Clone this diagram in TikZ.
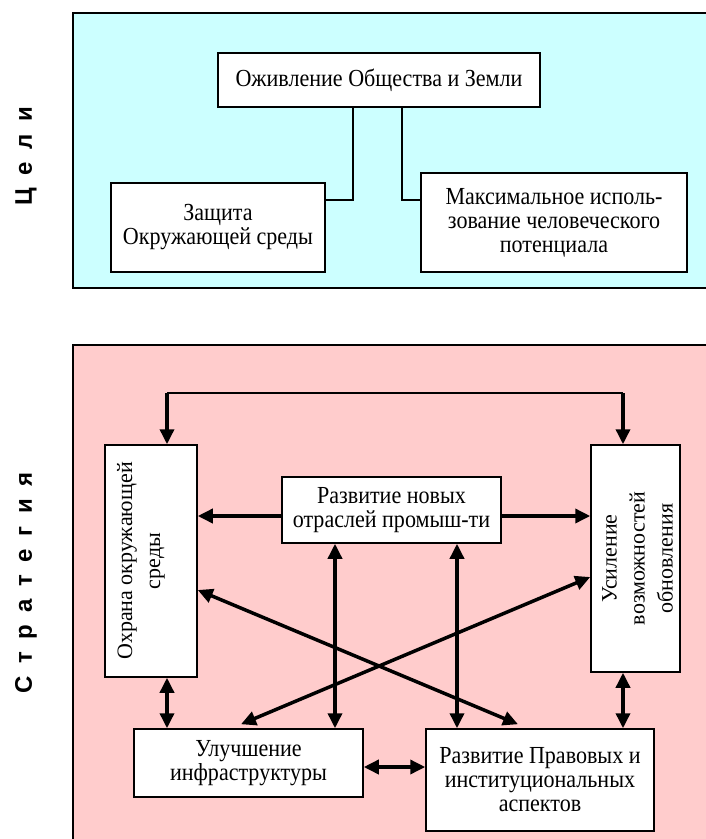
\documentclass[tikz,border=0pt]{standalone}
\usepackage{fontspec}
\setmainfont{Liberation Serif}
\setsansfont{Liberation Sans}
\newfontfamily\narrowserif[FakeStretch=0.9]{Liberation Serif}
\usepackage{tikz}
\usetikzlibrary{arrows.meta}
\usepackage{xcolor}
\definecolor{goalbg}{HTML}{CCFFFF}
\definecolor{stratbg}{HTML}{FFCCCC}
\newcommand\sidefont{\sffamily\bfseries\fontsize{24}{24}\selectfont\spaceskip 12.5pt\relax}

\tikzset{
	box/.style={draw, line width=1.5pt, fill=white, align=center, inner sep=2pt, font=\narrowserif\fontsize{24.5}{24}\selectfont},
	vtext/.style={rotate=90, align=center, font=\fontsize{22}{28}\selectfont},
	side/.style={rotate=90, font=\sidefont},
	panel/.style={line width=2pt},
	link/.style={line width=2pt},
	arr/.style={line width=3.5pt, -{Triangle[length=15pt,width=14pt]}},
	darr/.style={line width=3.5pt, {Triangle[length=15pt,width=14pt]}-{Triangle[length=15pt,width=14pt]}}
}

\begin{document}
\begin{tikzpicture}[x=1pt, y=-1pt]
		\path[use as bounding box, clip] (0,0) rectangle (706,839);
		% goals
		\draw[panel, fill=goalbg] (73,13) rectangle (720,288);
		\node[side] (goals) at (26,156) {Ц е л и};
		\node[box, minimum width=322pt, minimum height=54pt] (revival) at (379,80) {Оживление Общества и Земли};
		\node[box, minimum width=214pt, minimum height=89pt] (protect) at (218,227.5) {Защита\\Окружающей среды};
		\node[box, minimum width=266pt, minimum height=99pt] (human) at (554,222.5) {Максимальное исполь-\\зование человеческого\\потенциала};
		\draw[link] ([xshift=-26pt]revival.south) |- ([yshift=-18pt]protect.north east);
		\draw[link] ([xshift=23pt]revival.south) |- ([yshift=-28pt]human.north west);
		% strategy
		\draw[panel, fill=stratbg] (73,345) rectangle (720,850);
		\node[side] (strategy) at (26,583) {С т р а т е г и я};
		\node[box, minimum width=92pt, minimum height=232pt] (env) at (151,561) {};
		\node[vtext] (envtext) at ([xshift=-10pt]env.center) {Охрана окружающей\\среды};
		\node[box, minimum width=89pt, minimum height=227pt] (renew) at (635.5,558.5) {};
		\node[vtext] (renewtext) at ([xshift=2pt]renew.center) {Усиление\\возможностей\\обновления};
		\node[box, minimum width=219pt, minimum height=66pt] (newind) at (391.5,510) {Развитие новых\\отраслей промыш-ти};
		\node[box, minimum width=229pt, minimum height=68pt] (infra) at (248.5,763) {Улучшение\\инфраструктуры};
		\node[box, minimum width=228pt, minimum height=102pt] (legal) at (540,780) {Развитие Правовых и\\институциональных\\аспектов};

		\coordinate (tl) at (167,393);
		\coordinate (tr) at (623,393);
		\draw[link] (tl) -- (tr);
		\draw[arr] (tl) -- (tl |- env.north);
		\draw[arr] (tr) -- (tr |- renew.north);
		\draw[arr] ([yshift=-6pt]newind.west) -- ([yshift=-6pt]newind.west -| env.east);
		\draw[arr] ([yshift=-6pt]newind.east) -- ([yshift=-6pt]newind.east -| renew.west);
		\draw[darr] ([xshift=-56.5pt]newind.south) -- ([xshift=-56.5pt]newind.south |- infra.north);
		\draw[darr] ([xshift=65.5pt]newind.south) -- ([xshift=65.5pt]newind.south |- legal.north);
		\draw[darr] ([xshift=16pt]env.south) -- ([xshift=16pt]env.south |- infra.north);
		\draw[darr] ([xshift=-12.5pt]renew.south) -- ([xshift=-12.5pt]renew.south |- legal.north);
		\draw[darr] ([yshift=-4pt]infra.east) -- ([yshift=-4pt]infra.east -| legal.west);
		\draw[darr] ([yshift=-29pt]env.east) -- ([xshift=-22pt,yshift=4pt]legal.north);
		\draw[darr] ([yshift=-18.5pt]renew.west) -- ([xshift=-7.5pt,yshift=4pt]infra.north);
	\end{tikzpicture}
\end{document}
